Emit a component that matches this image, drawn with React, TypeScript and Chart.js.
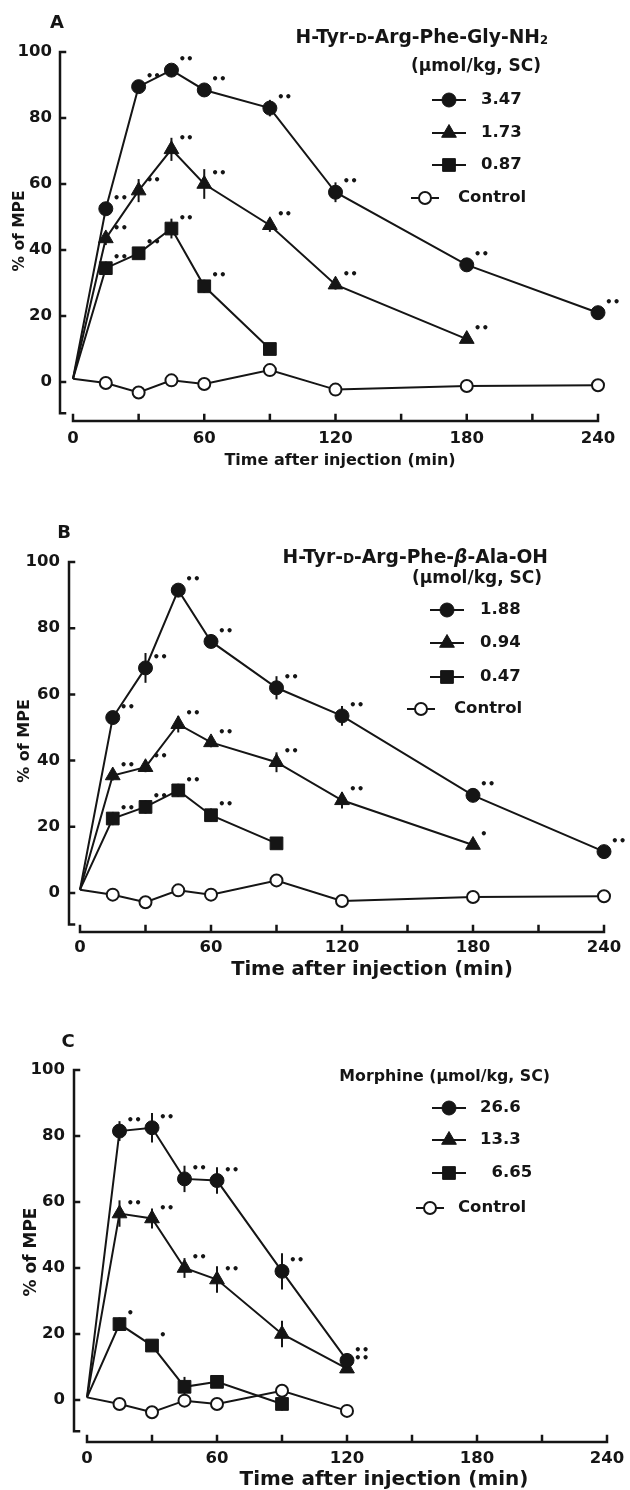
import React, { useEffect, useRef } from 'react';
import { Chart, registerables } from 'chart.js';

Chart.register(...registerables);

const INK = '#151515';
const FONT = '"DejaVu Sans", "Liberation Sans", sans-serif';
Chart.defaults.font.family = FONT;
Chart.defaults.color = INK;

// ---------------- axis ticks ----------------
const xLabelValues = [0, 60, 120, 180, 240];
const xTickValues = [0, 30, 60, 90, 120, 150, 180, 210, 240];
const yTickValues = [0, 20, 40, 60, 80, 100];
const yAxisEnd = -9.5;
const xTitle = 'Time after injection (min)';
const yTitle = '% of MPE';

// ---------------- Panel A : H-Tyr-D-Arg-Phe-Gly-NH2 ----------------
const timesA = [0, 15, 30, 45, 60, 90, 120, 180, 240];
const a347 = [1, 52.5, 89.5, 94.5, 88.5, 83, 57.5, 35.5, 21];
const a347Err = [0, 1.5, 1.5, 1.5, 1.5, 2.5, 3, 2, 1.5];
const a347Sig = ['', '**', '**', '**', '**', '**', '**', '**', '**'];
const times173 = [0, 15, 30, 45, 60, 90, 120, 180];
const a173 = [1, 43.5, 58, 70.5, 60, 47.5, 29.5, 13];
const a173Err = [0, 2, 3.5, 3.5, 4.5, 2, 1.5, 1];
const a173Sig = ['', '**', '**', '**', '**', '**', '**', '**'];
const times087 = [0, 15, 30, 45, 60, 90];
const a087 = [1, 34.5, 39, 46.5, 29, 10];
const a087Err = [0, 2, 1.5, 3, 2, 1.5];
const a087Sig = ['', '**', '**', '**', '**', ''];
const aCtrl = [1, -0.3, -3.2, 0.5, -0.6, 3.6, -2.3, -1.2, -1];
const aCtrlErr = [0, 0, 0, 0, 0, 0, 0, 0, 0];
const aCtrlSig = ['', '', '', '', '', '', '', '', ''];

// ---------------- Panel B : H-Tyr-D-Arg-Phe-beta-Ala-OH ----------------
const timesB = [0, 15, 30, 45, 60, 90, 120, 180, 240];
const b188 = [1, 53, 68, 91.5, 76, 62, 53.5, 29.5, 12.5];
const b188Err = [0, 2, 4.5, 2, 2, 3.5, 3, 2, 1];
const b188Sig = ['', '**', '**', '**', '**', '**', '**', '**', '**'];
const times094 = [0, 15, 30, 45, 60, 90, 120, 180];
const b094 = [1, 35.5, 38, 51, 45.5, 39.5, 28, 14.5];
const b094Err = [0, 1.5, 1.5, 2.5, 1.5, 3, 2.5, 1];
const b094Sig = ['', '**', '**', '**', '**', '**', '**', '*'];
const times047 = [0, 15, 30, 45, 60, 90];
const b047 = [1, 22.5, 26, 31, 23.5, 15];
const b047Err = [0, 2, 2, 2, 2, 1.5];
const b047Sig = ['', '**', '**', '**', '**', ''];
const bCtrl = [1, -0.5, -2.8, 0.8, -0.5, 3.8, -2.4, -1.2, -1];
const bCtrlErr = [0, 0, 0, 0, 0, 0, 0, 0, 0];
const bCtrlSig = ['', '', '', '', '', '', '', '', ''];

// ---------------- Panel C : Morphine ----------------
const timesC = [0, 15, 30, 45, 60, 90, 120];
const c266 = [0.8, 81.5, 82.5, 67, 66.5, 39, 12];
const c266Err = [0, 3, 4.5, 4, 4, 5.5, 1.5];
const c266Sig = ['', '**', '**', '**', '**', '**', '**'];
const c133 = [0.8, 56.5, 55, 40, 36.5, 20, 9.5];
const c133Err = [0, 4, 3, 3, 4, 4, 1];
const c133Sig = ['', '**', '**', '**', '**', '', '**'];
const times665 = [0, 15, 30, 45, 60, 90];
const c665 = [0.8, 23, 16.5, 4, 5.5, -1.2];
const c665Err = [0, 2, 1.5, 3, 1.5, 2];
const c665Sig = ['', '*', '*', '', '', ''];
const cCtrl = [0.8, -1.2, -3.7, -0.2, -1.2, 2.8, -3.3];
const cCtrlErr = [0, 0, 0, 0, 0, 0, 0];
const cCtrlSig = ['', '', '', '', '', '', ''];

// ---------------- styles ----------------
const MARKS: any = {
  circle: { pointStyle: 'circle', radius: 7, fill: INK, bw: 1 },
  triangle: { pointStyle: 'triangle', radius: 8.5, fill: INK, bw: 1 },
  square: { pointStyle: 'rect', radius: 9, fill: INK, bw: 1 },
  open: { pointStyle: 'circle', radius: 6, fill: '#ffffff', bw: 2 },
};

type Run = { t: string; k?: number; italic?: boolean; dy?: number };

const PANELS: any[] = [
  {
    id: 'A',
    g: {
      top: 0, height: 480, axisX: 59, right: 609, x0: 73, x240: 598,
      y100: 52, y0: 382, axisY: 421, yTickPad: 7,
      yTitleCx: 20, yTitleCy: 231, yTitleSize: 15.5,
      xLabelCy: 439, xTitleCx: 340, xTitleCy: 461, xTitleSize: 16,
      letterX: 57, letterY: 23,
      t1Right: 548, t1Y: 36, t1Size: 18.7, t2Right: 541, t2Y: 65, t2Size: 17,
      rows: [100, 133, 165, 198], markX: 449, textX: 481, ctrlMarkX: 425, ctrlTextX: 458,
    },
    letter: 'A',
    title1: [{ t: 'H-Tyr-' }, { t: 'D', k: 0.72 }, { t: '-Arg-Phe-Gly-NH' }, { t: '2', k: 0.62, dy: 1 }],
    title2: [{ t: '(µmol/kg, SC)' }],
    series: [
      { label: '3.47', times: timesA, values: a347, err: a347Err, sig: a347Sig, marker: 'circle' },
      { label: '1.73', times: times173, values: a173, err: a173Err, sig: a173Sig, marker: 'triangle' },
      { label: '0.87', times: times087, values: a087, err: a087Err, sig: a087Sig, marker: 'square' },
      { label: 'Control', times: timesA, values: aCtrl, err: aCtrlErr, sig: aCtrlSig, marker: 'open' },
    ],
  },
  {
    id: 'B',
    g: {
      top: 480, height: 515, axisX: 68, right: 615, x0: 80, x240: 604,
      y100: 82, y0: 413, axisY: 452, yTickPad: 8,
      yTitleCx: 25, yTitleCy: 261, yTitleSize: 16,
      xLabelCy: 468, xTitleCx: 372, xTitleCy: 490, xTitleSize: 19.5,
      letterX: 64, letterY: 53,
      t1Right: 548, t1Y: 76, t1Size: 18.7, t2Right: 542, t2Y: 97, t2Size: 17,
      rows: [130, 163, 197, 229], markX: 447, textX: 480, ctrlMarkX: 421, ctrlTextX: 454,
    },
    letter: 'B',
    title1: [{ t: 'H-Tyr-' }, { t: 'D', k: 0.72 }, { t: '-Arg-Phe-' }, { t: 'β', italic: true }, { t: '-Ala-OH' }],
    title2: [{ t: '(µmol/kg, SC)' }],
    series: [
      { label: '1.88', times: timesB, values: b188, err: b188Err, sig: b188Sig, marker: 'circle' },
      { label: '0.94', times: times094, values: b094, err: b094Err, sig: b094Sig, marker: 'triangle' },
      { label: '0.47', times: times047, values: b047, err: b047Err, sig: b047Sig, marker: 'square' },
      { label: 'Control', times: timesB, values: bCtrl, err: bCtrlErr, sig: bCtrlSig, marker: 'open' },
    ],
  },
  {
    id: 'C',
    g: {
      top: 1000, height: 490, axisX: 73, right: 618, x0: 87, x240: 607,
      y100: 70, y0: 400, axisY: 442, yTickPad: 8,
      yTitleCx: 32, yTitleCy: 252, yTitleSize: 17,
      xLabelCy: 459, xTitleCx: 384, xTitleCy: 480, xTitleSize: 20,
      letterX: 68, letterY: 42,
      t1Right: 550, t1Y: 75, t1Size: 15.8, t2Right: 0, t2Y: 0, t2Size: 0,
      rows: [108, 140, 173, 208], markX: 449, textX: 480, ctrlMarkX: 430, ctrlTextX: 458,
    },
    letter: 'C',
    title1: [{ t: 'Morphine (µmol/kg, SC)' }],
    title2: null,
    series: [
      { label: '26.6', times: timesC, values: c266, err: c266Err, sig: c266Sig, marker: 'circle' },
      { label: '13.3', times: timesC, values: c133, err: c133Err, sig: c133Sig, marker: 'triangle' },
      { label: '\u20076.65', times: times665, values: c665, err: c665Err, sig: c665Sig, marker: 'square' },
      { label: 'Control', times: timesC, values: cCtrl, err: cCtrlErr, sig: cCtrlSig, marker: 'open' },
    ],
  },
];

const TICK_SIZE = 16.5;
const LEGEND_SIZE = 16.5;

function drawRich(ctx: any, runs: Run[], rightX: number, cy: number, size: number) {
  const fontOf = (r: Run) => `${r.italic ? 'italic ' : ''}bold ${size * (r.k ?? 1)}px ${FONT}`;
  let w = 0;
  for (const r of runs) {
    ctx.font = fontOf(r);
    w += ctx.measureText(r.t).width;
  }
  let x = rightX - w;
  const base = cy + size * 0.36;
  ctx.textAlign = 'left';
  ctx.textBaseline = 'alphabetic';
  for (const r of runs) {
    ctx.font = fontOf(r);
    ctx.fillText(r.t, x, base + (r.dy ?? 0));
    x += ctx.measureText(r.t).width;
  }
}

function drawMarker(ctx: any, kind: string, x: number, y: number) {
  const m = MARKS[kind];
  ctx.save();
  ctx.fillStyle = m.fill;
  ctx.strokeStyle = INK;
  ctx.lineWidth = m.bw;
  ctx.beginPath();
  if (m.pointStyle === 'circle') {
    ctx.arc(x, y, m.radius, 0, Math.PI * 2);
  } else if (m.pointStyle === 'triangle') {
    const r = m.radius;
    ctx.moveTo(x, y - r);
    ctx.lineTo(x + r * 0.866, y + r * 0.5);
    ctx.lineTo(x - r * 0.866, y + r * 0.5);
    ctx.closePath();
  } else {
    const s = m.radius * Math.SQRT1_2;
    ctx.rect(x - s, y - s, 2 * s, 2 * s);
  }
  ctx.fill();
  ctx.stroke();
  ctx.restore();
}

function decorPlugin(p: any) {
  const g = p.g;
  return {
    id: 'decor' + p.id,
    beforeDatasetsDraw(chart: any) {
      const { ctx, chartArea } = chart;
      const xs = chart.scales.x;
      const ys = chart.scales.y;
      ctx.save();
      ctx.strokeStyle = INK;
      ctx.lineWidth = 2.5;
      ctx.lineCap = 'square';
      const ax = chartArea.left + 1;
      ctx.beginPath();
      ctx.moveTo(ax, ys.getPixelForValue(100));
      ctx.lineTo(ax, ys.getPixelForValue(yAxisEnd));
      for (const v of yTickValues) {
        const y = ys.getPixelForValue(v);
        ctx.moveTo(ax, y);
        ctx.lineTo(ax + 5, y);
      }
      const yb = ys.getPixelForValue(yAxisEnd);
      ctx.moveTo(ax, yb);
      ctx.lineTo(ax + 5, yb);
      const by = chartArea.bottom;
      ctx.moveTo(xs.getPixelForValue(0), by);
      ctx.lineTo(xs.getPixelForValue(240), by);
      for (const v of xTickValues) {
        const x = xs.getPixelForValue(v);
        ctx.moveTo(x, by);
        ctx.lineTo(x, by - 6);
      }
      ctx.stroke();
      // error bars
      ctx.lineWidth = 2;
      ctx.lineCap = 'butt';
      for (const s of p.series) {
        s.times.forEach((t: number, j: number) => {
          const e = s.err[j];
          if (!e) return;
          const x = xs.getPixelForValue(t);
          ctx.beginPath();
          ctx.moveTo(x, ys.getPixelForValue(s.values[j] + e));
          ctx.lineTo(x, ys.getPixelForValue(s.values[j] - e));
          ctx.stroke();
        });
      }
      ctx.restore();
    },
    afterDraw(chart: any) {
      const { ctx } = chart;
      const xs = chart.scales.x;
      const ys = chart.scales.y;
      ctx.save();
      ctx.fillStyle = INK;
      ctx.strokeStyle = INK;
      // significance marks
      ctx.font = `bold 12px ${FONT}`;
      ctx.textAlign = 'left';
      ctx.textBaseline = 'middle';
      for (const s of p.series) {
        s.times.forEach((t: number, j: number) => {
          const sg = s.sig[j];
          if (!sg) return;
          const x = xs.getPixelForValue(t);
          const y = ys.getPixelForValue(s.values[j]);
          ctx.fillText(sg.replace(/\*/g, '•'), x + 7, y - 10);
        });
      }
      // axis titles
      ctx.textAlign = 'center';
      ctx.textBaseline = 'middle';
      ctx.font = `bold ${g.xTitleSize}px ${FONT}`;
      ctx.fillText(xTitle, g.xTitleCx, g.xTitleCy);
      ctx.save();
      ctx.translate(g.yTitleCx, g.yTitleCy);
      ctx.rotate(-Math.PI / 2);
      ctx.font = `bold ${g.yTitleSize}px ${FONT}`;
      ctx.fillText(yTitle, 0, 0);
      ctx.restore();
      // panel letter
      ctx.font = `bold 18px ${FONT}`;
      ctx.fillText(p.letter, g.letterX, g.letterY);
      // legend
      drawRich(ctx, p.title1, g.t1Right, g.t1Y, g.t1Size);
      if (p.title2) drawRich(ctx, p.title2, g.t2Right, g.t2Y, g.t2Size);
      p.series.forEach((s: any, i: number) => {
        const y = g.rows[i];
        const isCtrl = s.marker === 'open';
        const mx = isCtrl ? g.ctrlMarkX : g.markX;
        const half = isCtrl ? 14 : 17;
        ctx.lineWidth = 2;
        ctx.beginPath();
        ctx.moveTo(mx - half, y);
        ctx.lineTo(mx + half, y);
        ctx.stroke();
        drawMarker(ctx, s.marker, mx, y);
        ctx.fillStyle = INK;
        ctx.font = `bold ${LEGEND_SIZE}px ${FONT}`;
        ctx.textAlign = 'left';
        ctx.textBaseline = 'middle';
        ctx.fillText(s.label, isCtrl ? g.ctrlTextX : g.textX, y);
      });
      ctx.restore();
    },
  };
}

function buildConfig(p: any) {
  const g = p.g;
  const W = 630;
  const pxMin = (g.x240 - g.x0) / 240;
  const xMin = (g.axisX - g.x0) / pxMin;
  const xMax = (g.right - g.x0) / pxMin;
  const pxUnit = (g.y0 - g.y100) / 100;
  const yMin = -(g.axisY - g.y0) / pxUnit;
  const scaleBottom = g.xTitleCy + g.xTitleSize / 2;
  const xAxisH = scaleBottom - g.axisY;
  const tickFont = { family: FONT, size: TICK_SIZE, weight: 'bold' as const };

  const datasets = p.series.map((s: any) => {
    const m = MARKS[s.marker];
    return {
      label: s.label,
      data: s.times.map((t: number, i: number) => ({ x: t, y: s.values[i] })),
      borderColor: INK,
      borderWidth: 2,
      backgroundColor: m.fill,
      pointStyle: m.pointStyle,
      pointRadius: (c: any) => (c.dataIndex === 0 ? 0 : m.radius),
      pointHoverRadius: (c: any) => (c.dataIndex === 0 ? 0 : m.radius),
      pointBackgroundColor: m.fill,
      pointBorderColor: INK,
      pointBorderWidth: m.bw,
      tension: 0,
      fill: false,
      clip: false,
    };
  });

  return {
    type: 'line' as const,
    data: { datasets },
    options: {
      responsive: false,
      maintainAspectRatio: false,
      animation: false as const,
      devicePixelRatio: 1,
      events: [],
      layout: {
        padding: { top: g.y100, left: 0, right: W - g.right, bottom: g.height - scaleBottom },
      },
      plugins: { legend: { display: false }, tooltip: { enabled: false } },
      scales: {
        x: {
          type: 'linear' as const,
          min: xMin,
          max: xMax,
          afterBuildTicks: (s: any) => {
            s.ticks = xLabelValues.map((v) => ({ value: v }));
          },
          afterFit: (s: any) => {
            s.height = xAxisH;
            s.paddingLeft = 0;
            s.paddingRight = 0;
          },
          grid: { display: false, drawTicks: false },
          border: { display: false },
          ticks: {
            font: tickFont,
            color: INK,
            padding: g.xLabelCy - g.axisY - TICK_SIZE * 0.6,
            maxRotation: 0,
            autoSkip: false,
            callback: (v: any) => String(v),
          },
          title: { display: false },
        },
        y: {
          type: 'linear' as const,
          min: yMin,
          max: 100,
          afterBuildTicks: (s: any) => {
            s.ticks = yTickValues.map((v) => ({ value: v }));
          },
          afterFit: (s: any) => {
            s.width = g.axisX;
            s.paddingTop = 0;
            s.paddingBottom = 0;
          },
          grid: { display: false, drawTicks: false },
          border: { display: false },
          ticks: {
            font: tickFont,
            color: INK,
            padding: g.yTickPad,
            callback: (v: any) => String(v),
          },
          title: { display: false },
        },
      },
    },
    plugins: [decorPlugin(p)],
  };
}

function PanelChart({ panel }: { panel: any }) {
  const ref = useRef<HTMLCanvasElement | null>(null);
  useEffect(() => {
    if (!ref.current) return;
    const chart = new Chart(ref.current, buildConfig(panel) as any);
    return () => chart.destroy();
  }, [panel]);
  return (
    <canvas
      ref={ref}
      width={630}
      height={panel.g.height}
      style={{ position: 'absolute', left: 0, top: panel.g.top, width: 630, height: panel.g.height }}
    />
  );
}

export default function App() {
  return (
    <div style={{ position: 'absolute', left: 0, top: 0, width: 630, height: 1490, background: '#ffffff', overflow: 'hidden' }}>
      {PANELS.map((p) => (
        <PanelChart key={p.id} panel={p} />
      ))}
    </div>
  );
}
